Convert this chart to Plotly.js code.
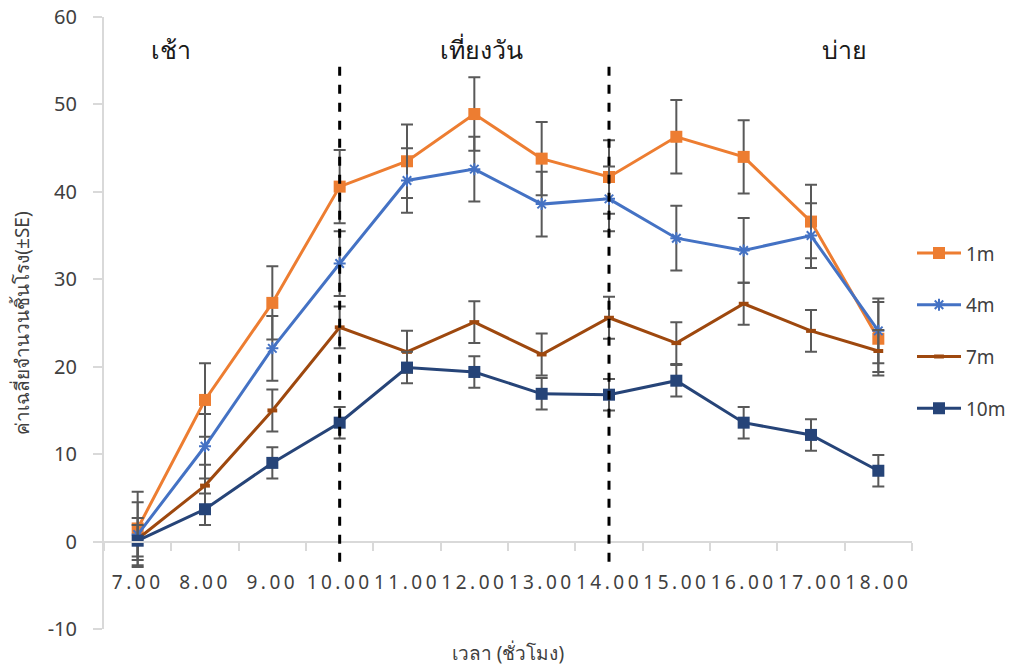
<!DOCTYPE html>
<html>
<head>
<meta charset="utf-8">
<script src="https://cdn.plot.ly/plotly-3.0.1.min.js"></script>
<style>
  html, body { margin: 0; padding: 0; background: #fff; }
  #chart { width: 1023px; height: 666px; }
  .xtick text { letter-spacing: 3.5px; }
</style>
</head>
<body>
<div id="chart"></div>
<script>
// Hour of day (category axis)
const hours = ['7.00', '8.00', '9.00', '10.00', '11.00', '12.00', '13.00', '14.00', '15.00', '16.00', '17.00', '18.00'];

// Mean counts by depth
const depth1m  = [1.5, 16.2, 27.3, 40.6, 43.5, 48.9, 43.8, 41.7, 46.3, 44.0, 36.6, 23.2];
const depth4m  = [0.8, 10.9, 22.1, 31.8, 41.3, 42.6, 38.6, 39.2, 34.7, 33.3, 35.0, 24.1];
const depth7m  = [0.3, 6.4, 15.0, 24.5, 21.7, 25.1, 21.4, 25.6, 22.7, 27.2, 24.1, 21.8];
const depth10m = [0.1, 3.7, 9.0, 13.6, 19.9, 19.4, 16.9, 16.8, 18.4, 13.6, 12.2, 8.1];

// Standard error of each series
const se1m = 4.2;
const se4m = 3.7;
const se7m = 2.4;
const se10m = 1.8;

// Value axis ticks
const yTickVals = [-10, 0, 10, 20, 30, 40, 50, 60];
const yTickText = ['-10', '0', '10', '20', '30', '40', '50', '60'];

// Period labels and the hours that divide them
const periods = ['เช้า', 'เที่ยงวัน', 'บ่าย'];
const periodPos = [0.5, 5.1, 10.5];
const dividers = [3, 7];

const FONT = 'Noto Sans, Open Sans, sans-serif';
const errStyle = { color: '#595959', thickness: 2, width: 6 };

function series(name, y, se, color, marker) {
  return {
    type: 'scatter', mode: 'lines+markers', name: name, legendgroup: name,
    x: hours, y: y,
    line: { color: color, width: 3 },
    marker: marker,
    error_y: Object.assign({ type: 'constant', value: se, visible: true }, errStyle)
  };
}

const traces = [
  series('1m', depth1m, se1m, '#ED7D31', { symbol: 'square', size: 12, color: '#ED7D31' }),
  series('4m', depth4m, se4m, '#4472C4', { symbol: 'asterisk', size: 10, color: '#4472C4', line: { color: '#4472C4', width: 2 } }),
  series('7m', depth7m, se7m, '#9E480E', { symbol: 'line-ew', size: 7, color: '#9E480E', line: { color: '#9E480E', width: 4 } }),
  series('10m', depth10m, se10m, '#264478', { symbol: 'square', size: 12, color: '#264478' })
];

const shapes = dividers.map(i => ({
  type: 'line', xref: 'x', yref: 'y',
  x0: i, x1: i, y0: -2.3, y1: 55.1,
  line: { color: '#000', width: 3, dash: 'dash' }
}));

const annotations = periods.map((t, k) => ({
  text: t, xref: 'x', yref: 'y', x: periodPos[k], y: 56.3,
  showarrow: false, font: { family: FONT, size: 25, color: '#1a1a1a', weight: 300 }
}));

const layout = {
  width: 1023, height: 666,
  margin: { l: 104, r: 107, t: 17, b: 37 },
  paper_bgcolor: '#fff', plot_bgcolor: '#fff',
  font: { family: FONT, color: '#404040' },
  showlegend: true,
  legend: {
    x: 1.0, y: 0.645, xanchor: 'left', yanchor: 'top',
    font: { family: FONT, size: 19, color: '#404040' },
    tracegroupgap: 24, itemwidth: 44, bgcolor: 'rgba(0,0,0,0)'
  },
  xaxis: {
    type: 'category', range: [-0.5, 11.5],
    anchor: 'free', position: 10 / 70,
    showline: true, linecolor: '#d9d9d9', linewidth: 2,
    ticks: 'outside', ticklen: 8, tickcolor: '#d9d9d9', tickwidth: 2,
    tickson: 'boundaries', showgrid: false, zeroline: false,
    ticklabelstandoff: 24,
    tickfont: { family: FONT, size: 19, color: '#404040' },
    title: { text: 'เวลา (ชั่วโมง)', standoff: 56, font: { family: FONT, size: 19, color: '#404040' } }
  },
  yaxis: {
    range: [-10, 60], tickvals: yTickVals, ticktext: yTickText,
    showline: true, linecolor: '#d9d9d9', linewidth: 2,
    ticks: 'outside', ticklen: 9, tickcolor: '#d9d9d9', tickwidth: 2,
    showgrid: false, zeroline: false,
    ticklabelstandoff: 12,
    tickfont: { family: FONT, size: 20, color: '#404040' },
    title: { text: 'ค่าเฉลี่ยจำนวนชิ้นโรง(±SE)', standoff: 13, font: { family: FONT, size: 19, color: '#404040' } }
  },
  shapes: shapes,
  annotations: annotations
};

Plotly.newPlot('chart', traces, layout, { displayModeBar: false, staticPlot: true });
</script>
</body>
</html>
